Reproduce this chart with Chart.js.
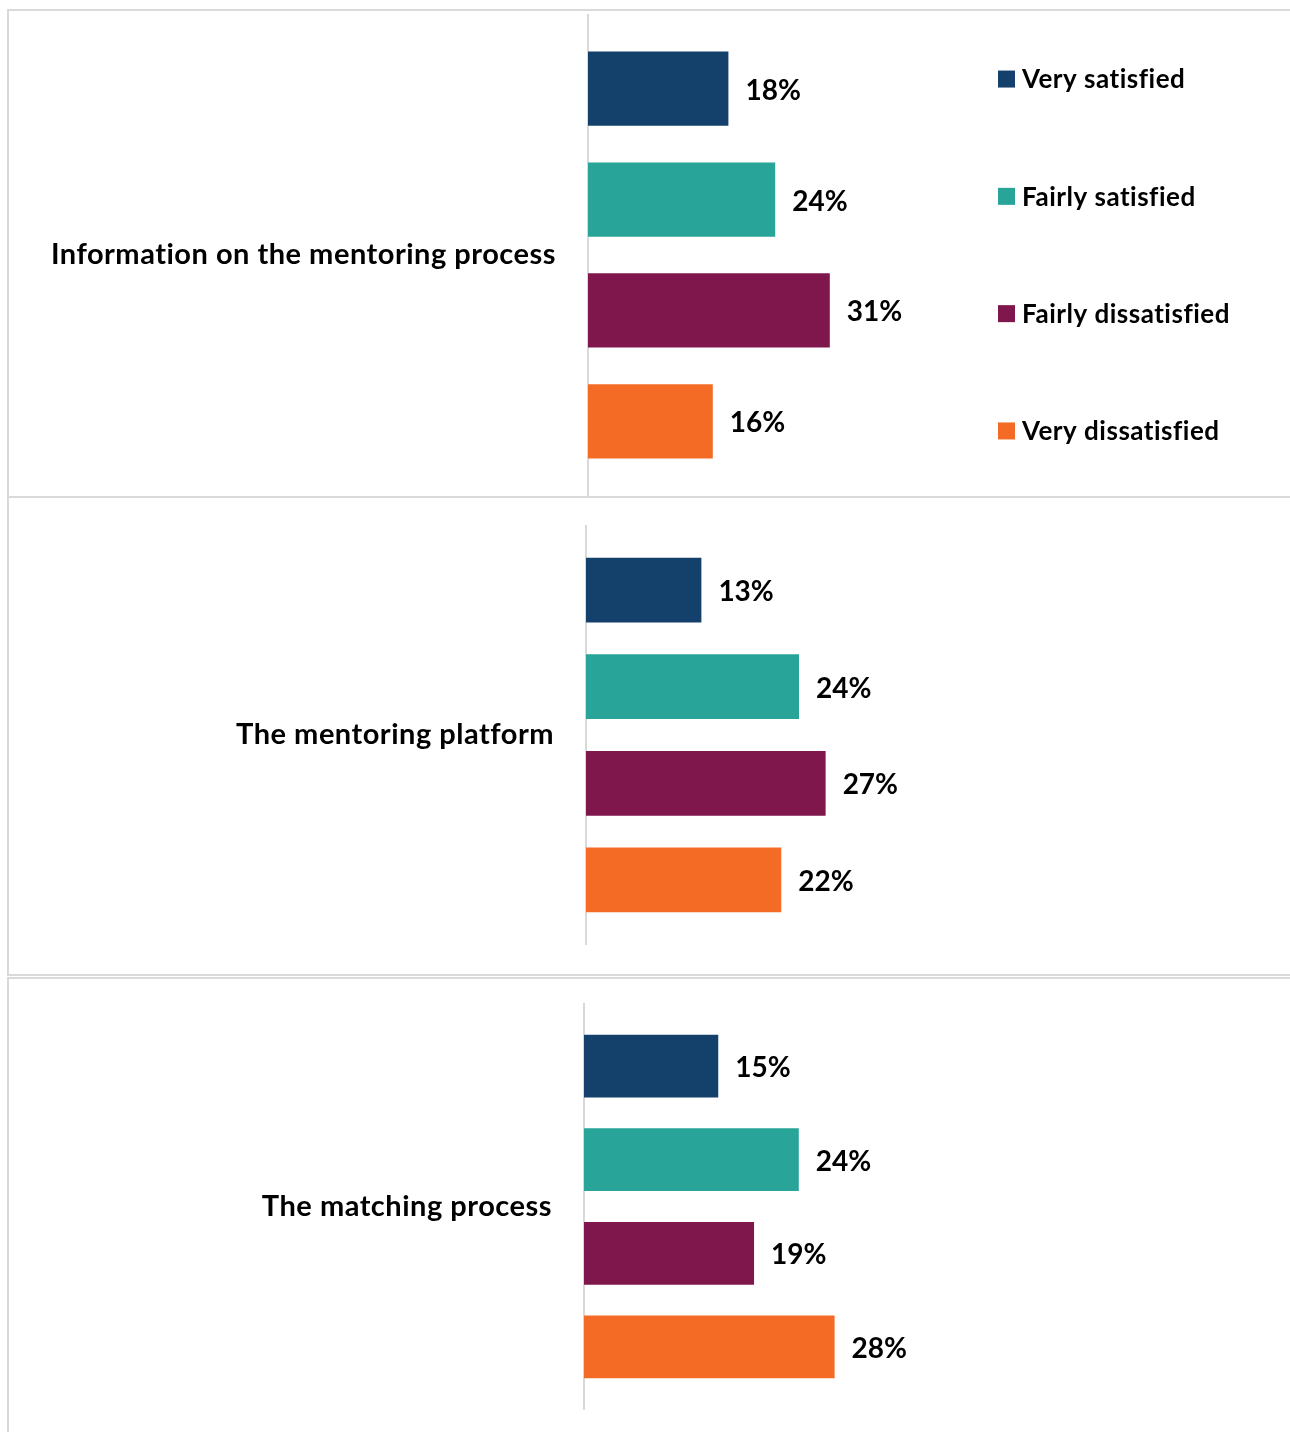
<!DOCTYPE html>
<html>
<head>
<meta charset="utf-8">
<title>Satisfaction with mentoring</title>
<script src="https://cdn.jsdelivr.net/npm/chart.js@4.4.1/dist/chart.umd.min.js"></script>
<style>
  html, body { margin: 0; padding: 0; overflow: hidden; background: #fff; }
  .panel { position: absolute; left: 7px; width: 1400px; box-sizing: border-box;
           border: 0 solid #d9d9d9; border-left-width: 2px; }
  #p1 { top: 9px; height: 489px; border-top-width: 2px; border-bottom-width: 2px; }
  #p2 { top: 498px; height: 478px; border-bottom-width: 2px; }
  #p3 { top: 977px; height: 600px; border-top-width: 2px; }
  canvas { position: absolute; left: 9px; }
</style>
</head>
<body>
<div class="panel" id="p1"></div>
<div class="panel" id="p2"></div>
<div class="panel" id="p3"></div>
<canvas id="c1" width="1281" height="482" style="top:14px"></canvas>
<canvas id="c2" width="1281" height="420" style="top:525px"></canvas>
<canvas id="c3" width="1281" height="407" style="top:1003px"></canvas>
<script>
const categories = ['Information on the mentoring process', 'The mentoring platform', 'The matching process'];
const levels = ['Very satisfied', 'Fairly satisfied', 'Fairly dissatisfied', 'Very dissatisfied'];
const verySatisfied = [18, 13, 15];
const fairlySatisfied = [24, 24, 24];
const fairlyDissatisfied = [31, 27, 19];
const veryDissatisfied = [16, 22, 28];
const colors = ['#14416b', '#29a499', '#7f174c', '#f46b26'];

const series = [verySatisfied, fairlySatisfied, fairlyDissatisfied, veryDissatisfied];
const FONT = 'Lato, "Open Sans", sans-serif';

// one canvas per category, stacked like separate boxes
const panels = [
    { id: 'c1', axisWidth: 579, padRight: 390, legend: true },
    { id: 'c2', axisWidth: 577, padRight: 349, legend: false },
    { id: 'c3', axisWidth: 575, padRight: 348, legend: false },
];

// a little tracking for the axis text (also stops the ti/fi ligatures)
const tracking = {
    id: 'tracking',
    beforeDraw(chart) { chart.ctx.letterSpacing = '0.5px'; }
};

// "18%" style text right of every bar
const valueLabels = {
    id: 'valueLabels',
    afterDatasetsDraw(chart) {
        const ctx = chart.ctx;
        ctx.save();
        ctx.letterSpacing = '0px';
        ctx.font = 'bold 28px ' + FONT;
        ctx.fillStyle = '#000';
        ctx.textBaseline = 'middle';
        ctx.textAlign = 'left';
        chart.data.datasets.forEach((ds, k) => {
            chart.getDatasetMeta(k).data.forEach((bar, j) => {
                ctx.fillText(ds.data[j] + '%', bar.x + 17, bar.y + 2);
            });
        });
        ctx.restore();
    }
};

// legend column to the right of the bars
const sideLegend = {
    id: 'sideLegend',
    afterDraw(chart, args, opts) {
        if (!opts.show) return;
        const { ctx, chartArea } = chart;
        const mid = (chartArea.top + chartArea.bottom) / 2;
        const x = chartArea.right + opts.offset;
        ctx.save();
        ctx.letterSpacing = '0.5px';
        ctx.font = 'bold 26px ' + FONT;
        ctx.textBaseline = 'middle';
        ctx.textAlign = 'left';
        chart.data.datasets.forEach((ds, k) => {
            const y = mid + (k - 1.5) * opts.step;
            ctx.fillStyle = ds.backgroundColor;
            ctx.fillRect(x, y - 8.5, 17, 17);
            ctx.fillStyle = '#000';
            ctx.fillText(ds.label, x + 24, y + 1);
        });
        ctx.restore();
    }
};

panels.forEach((p, i) => {
    new Chart(document.getElementById(p.id), {
        type: 'bar',
        data: {
            labels: [categories[i]],
            datasets: levels.map((name, k) => ({
                label: name,
                data: [series[k][i]],
                backgroundColor: colors[k],
                borderWidth: 0,
                categoryPercentage: 0.92,
                barPercentage: 0.67,
            }))
        },
        options: {
            indexAxis: 'y',
            responsive: false,
            animation: false,
            layout: { padding: { left: 0, top: 0, bottom: 0, right: p.padRight } },
            scales: {
                x: { display: false, min: 0, max: 40 },
                y: {
                    grid: { display: false, drawTicks: false },
                    border: { display: true, color: '#d9d9d9', width: 2 },
                    ticks: { padding: 32, color: '#000', font: { family: FONT, weight: 'bold', size: 29 } },
                    afterFit(scale) {
                        // keep the axis line running the full panel height
                        scale.width = p.axisWidth;
                        scale.paddingTop = 0;
                        scale.paddingBottom = 0;
                    }
                }
            },
            plugins: {
                legend: { display: false },
                tooltip: { enabled: false },
                sideLegend: { show: p.legend, offset: 98, step: 117.3 }
            }
        },
        plugins: [tracking, valueLabels, sideLegend]
    });
});
</script>
</body>
</html>
